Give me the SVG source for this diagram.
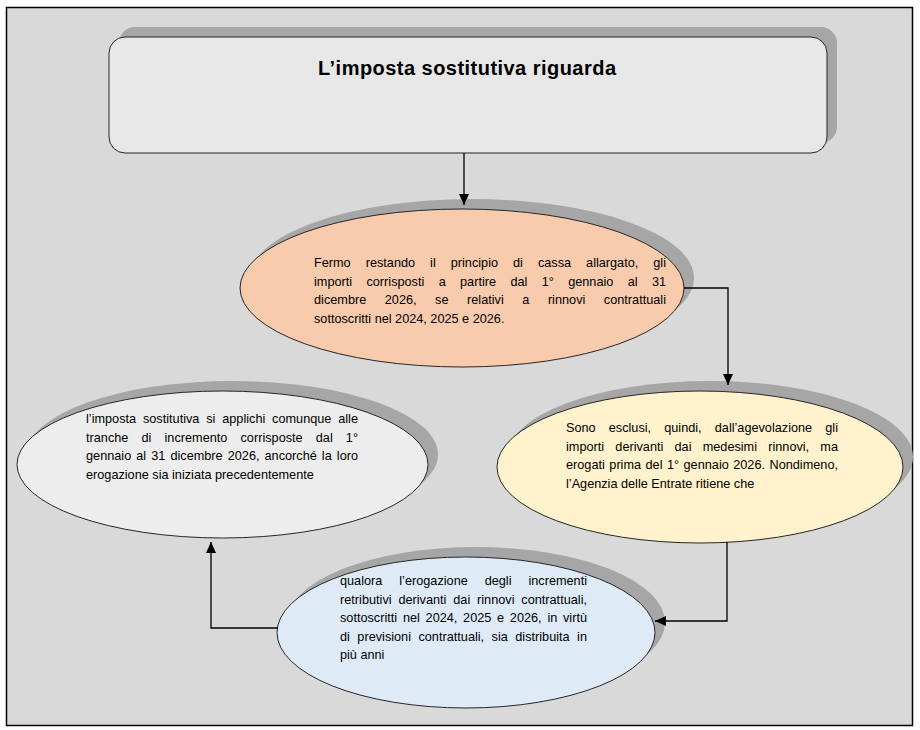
<svg xmlns="http://www.w3.org/2000/svg" width="920" height="730" viewBox="0 0 920 730">
<defs>
<style>
.t{font-family:"Liberation Sans",Arial,sans-serif;font-size:12.7px;fill:#000}
.ttl{font-family:"Liberation Sans",Arial,sans-serif;font-size:20px;font-weight:bold;fill:#000}
.sh{fill:#a6a6a6}
.nd{stroke:#262626;stroke-width:1}
.cn{fill:none;stroke:#000;stroke-width:1.3}
</style>
<marker id="ah" markerUnits="userSpaceOnUse" markerWidth="11" markerHeight="10" refX="11" refY="5" orient="auto">
<path d="M0,0 L11,5 L0,10 z" fill="#000"/>
</marker>
</defs>
<rect x="6.5" y="7.5" width="906" height="718" fill="#d9d9d9" stroke="#000" stroke-width="1.5"/>

<g id="title">
<rect class="sh" x="119" y="27" width="718" height="116" rx="16"/>
<rect class="nd" x="109" y="37" width="718" height="116" rx="16" fill="#e7e7e7"/>
<text class="ttl" x="467" y="75" text-anchor="middle" textLength="298" lengthAdjust="spacing">L’imposta sostitutiva riguarda</text>
</g>

<g id="node1">
<ellipse class="sh" cx="472" cy="278" rx="222" ry="79"/>
<ellipse class="nd" cx="462" cy="288" rx="222" ry="79" fill="#f8cbad"/>
<text class="t" x="314" y="267" word-spacing="11.5" textLength="352" lengthAdjust="spacing">Fermo restando il principio di cassa allargato, gli</text>
<text class="t" x="314" y="285.5" word-spacing="10.8" textLength="352" lengthAdjust="spacing">importi corrisposti a partire dal 1° gennaio al 31</text>
<text class="t" x="314" y="304" word-spacing="15" textLength="352" lengthAdjust="spacing">dicembre 2026, se relativi a rinnovi contrattuali</text>
<text class="t" x="314" y="322.5">sottoscritti nel 2024, 2025 e 2026.</text>
</g>

<g id="node2">
<ellipse class="sh" cx="710" cy="457" rx="203" ry="76"/>
<ellipse class="nd" cx="700" cy="467" rx="203" ry="76" fill="#fff2cc"/>
<text class="t" x="566" y="432" word-spacing="9.6" textLength="272" lengthAdjust="spacing">Sono esclusi, quindi, dall’agevolazione gli</text>
<text class="t" x="566" y="450.5" word-spacing="7.7" textLength="272" lengthAdjust="spacing">importi derivanti dai medesimi rinnovi, ma</text>
<text class="t" x="566" y="469" word-spacing="0.9" textLength="272" lengthAdjust="spacing">erogati prima del 1° gennaio 2026. Nondimeno,</text>
<text class="t" x="566" y="487.5">l’Agenzia delle Entrate ritiene che</text>
</g>

<g id="node3">
<ellipse class="sh" cx="476" cy="622.5" rx="189" ry="75.5"/>
<ellipse class="nd" cx="466" cy="632.5" rx="189" ry="75.5" fill="#deebf7"/>
<text class="t" x="340" y="585" word-spacing="13.4" textLength="247" lengthAdjust="spacing">qualora l’erogazione degli incrementi</text>
<text class="t" x="340" y="603.5" word-spacing="3.3" textLength="247" lengthAdjust="spacing">retributivi derivanti dai rinnovi contrattuali,</text>
<text class="t" x="340" y="622" word-spacing="2.2" textLength="247" lengthAdjust="spacing">sottoscritti nel 2024, 2025 e 2026, in virtù</text>
<text class="t" x="340" y="640.5" word-spacing="3.9" textLength="247" lengthAdjust="spacing">di previsioni contrattuali, sia distribuita in</text>
<text class="t" x="340" y="659">più anni</text>
</g>

<g id="node4">
<ellipse class="sh" cx="232.5" cy="454.5" rx="205.5" ry="73.5"/>
<ellipse class="nd" cx="222.5" cy="464.5" rx="205.5" ry="73.5" fill="#ededed"/>
<text class="t" x="86" y="423" word-spacing="3.3" textLength="272" lengthAdjust="spacing">l’imposta sostitutiva si applichi comunque alle</text>
<text class="t" x="86" y="441.5" word-spacing="9.6" textLength="272" lengthAdjust="spacing">tranche di incremento corrisposte dal 1°</text>
<text class="t" x="86" y="460" word-spacing="1.5" textLength="272" lengthAdjust="spacing">gennaio al 31 dicembre 2026, ancorché la loro</text>
<text class="t" x="86" y="478.5">erogazione sia iniziata precedentemente</text>
</g>

<g id="connectors">
<path class="cn" d="M684,288 L728,288 L728,385" marker-end="url(#ah)"/>
<path class="cn" d="M464,153 L464,205" marker-end="url(#ah)"/>
<path class="cn" d="M727,542 L727,621 L655,621" marker-end="url(#ah)"/>
<path class="cn" d="M278,628 L211,628 L211,542" marker-end="url(#ah)"/>
</g>
</svg>
